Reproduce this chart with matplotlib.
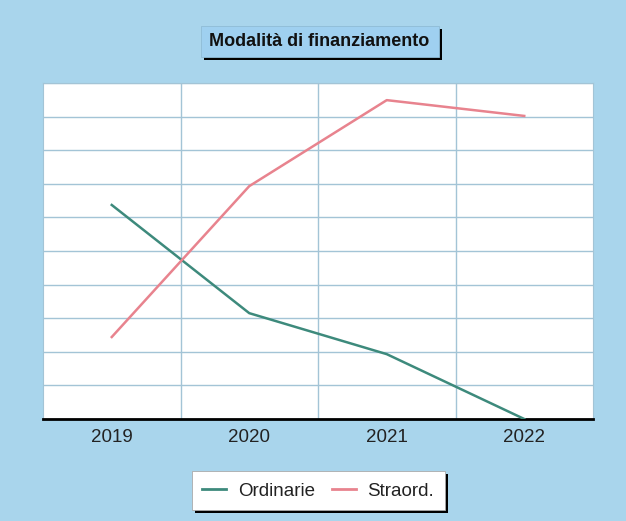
import matplotlib
matplotlib.use("Agg")
import matplotlib.pyplot as plt
from matplotlib.lines import Line2D
from matplotlib.patches import Rectangle

years = ["2019", "2020", "2021", "2022"]
ordinarie = [6.37, 3.15, 1.93, 0.0]
straord = [2.44, 6.93, 9.49, 9.02]
title = "Modalità di finanziamento"
labels = ["Ordinarie", "Straord."]

plt.rcParams['font.family'] = ['Liberation Sans', 'DejaVu Sans']

bg = "#a9d5ec"
grid_c = "#a3c4d6"
c_ord = "#3d8a7c"
c_str = "#e8838e"

fig = plt.figure(figsize=(6.26, 5.21), dpi=100, facecolor=bg)
ax = fig.add_axes([43/626, 1-419/521, 550/626, 336/521])
ax.set_facecolor("white")

x = list(range(len(years)))
ax.plot(x, ordinarie, color=c_ord, lw=1.8, zorder=3)
ax.plot(x, straord, color=c_str, lw=1.8, zorder=3)

ax.set_xlim(-0.5, len(years) - 0.5)
ax.set_ylim(0, 10)
ax.set_yticks(range(0, 11))
ax.set_yticklabels([])
ax.tick_params(axis="y", length=0)
ax.set_xticks(x)
ax.set_xticklabels(years, fontsize=13.5, color="#222222")
ax.tick_params(axis="x", which="both", length=0, pad=7)
ax.set_xticks([i + 0.5 for i in range(len(years) - 1)], minor=True)
ax.grid(False)
ax.grid(True, which="minor", axis="x", color=grid_c, lw=1)
ax.grid(True, which="major", axis="y", color=grid_c, lw=1)
for s in ["top", "left", "right"]:
    ax.spines[s].set_color(grid_c)
ax.spines["bottom"].set_color("black")
ax.spines["bottom"].set_linewidth(2)

# title box with shadow
fig.patches.append(Rectangle((204/626, 1-60/521), 238/626, 31/521, transform=fig.transFigure,
                             fc="black", ec="none", zorder=0))
fig.patches.append(Rectangle((201/626, 1-57/521), 238/626, 31/521, transform=fig.transFigure,
                             fc="#9fd0f0", ec="#8fbcd6", lw=0.6, zorder=0.5))
fig.text(319/626, 1-42/521, title, ha="center", va="center", fontsize=13,
         fontweight="bold", color="#111111")

# legend box with shadow
fig.patches.append(Rectangle((195/626, 1-513/521), 253/626, 39/521, transform=fig.transFigure,
                             fc="black", ec="none", zorder=0))
fig.patches.append(Rectangle((192/626, 1-510/521), 253/626, 39/521, transform=fig.transFigure,
                             fc="white", ec="#aaaaaa", lw=0.6, zorder=0.5))
handles = [Line2D([], [], color=c_ord, lw=2), Line2D([], [], color=c_str, lw=2)]
leg = fig.legend(handles, labels, loc="center", bbox_to_anchor=(318/626, 1-491/521),
                 ncol=2, frameon=False, fontsize=13.5, handlelength=1.3,
                 handletextpad=0.6, columnspacing=0.9)
for t in leg.get_texts():
    t.set_color("#222222")

fig.savefig("out.png", dpi=100, facecolor=bg)
